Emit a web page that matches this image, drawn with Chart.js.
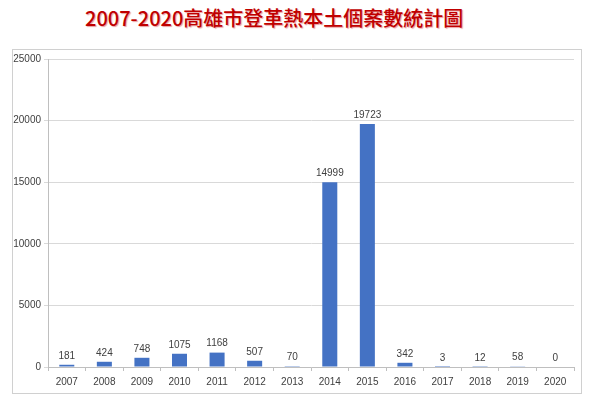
<!DOCTYPE html>
<html>
<head>
<meta charset="utf-8">
<script src="https://cdn.jsdelivr.net/npm/chart.js@4"></script>
<style>
    body { margin: 0; background: #fff; width: 600px; height: 405px; position: relative; overflow: hidden; }
    #title {
        position: absolute; left: 85px; top: 3px; width: 380px;
        font-family: "Noto Sans CJK TC", serif; font-weight: 500; font-size: 20px;
        color: #c00000; text-shadow: 1px 1px 1px #e8a0a0; white-space: nowrap;
    }
    #box { position: absolute; left: 12px; top: 49px; width: 568px; height: 343px; border: 1px solid #d0d0d0; }
</style>
</head>
<body>
<div id="title">2007-2020高雄市登革熱本土個案數統計圖</div>
<div id="box"><canvas id="barChart" width="568" height="343"></canvas></div>
<script>
var years = ["2007", "2008", "2009", "2010", "2011", "2012", "2013", "2014", "2015", "2016", "2017", "2018", "2019", "2020"];
var cases = [181, 424, 748, 1075, 1168, 507, 70, 14999, 19723, 342, 3, 12, 58, 0];
var yTicks = [0, 5000, 10000, 15000, 20000, 25000];

// value labels over the bars
var valueLabels = {
    id: 'valueLabels',
    afterDatasetsDraw: function (chart) {
        var ctx = chart.ctx;
        var meta = chart.getDatasetMeta(0);
        ctx.save();
        ctx.font = '10px "Liberation Sans"';
        ctx.fillStyle = '#404040';
        ctx.textAlign = 'center';
        ctx.textBaseline = 'bottom';
        meta.data.forEach(function (bar, i) {
            ctx.fillText(cases[i], bar.x, bar.y - 4);
        });
        ctx.restore();
    }
};

var ctx = document.getElementById('barChart');
var mainChart = new Chart(ctx, {
    type: 'bar',
    data: {
        labels: years,
        datasets: [{
            label: "Cases",
            backgroundColor: "#4472c4",
            data: cases,
            categoryPercentage: 1,
            barPercentage: 0.4
        }]
    },
    options: {
        responsive: false,
        animation: false,
        layout: { padding: { top: 6, right: 7, left: 0, bottom: 0 } },
        plugins: { legend: { display: false }, tooltip: { enabled: false } },
        scales: {
            x: {
                grid: { display: true, drawOnChartArea: false, offset: true, tickLength: 4, color: '#bfbfbf' },
                border: { color: '#bfbfbf' },
                ticks: { color: '#404040', font: { family: 'Liberation Sans', size: 10 }, padding: 5, maxRotation: 0 }
            },
            y: {
                min: 0, max: 25000,
                afterBuildTicks: function (s) { s.ticks = yTicks.map(function (v) { return { value: v }; }); },
                afterFit: function (s) { s.width = 35; },
                grid: { color: '#d9d9d9', tickLength: 4 },
                border: { color: '#bfbfbf' },
                ticks: {
                    color: '#404040', font: { family: 'Liberation Sans', size: 10 }, padding: 3,
                    callback: function (v) { return String(v); }
                }
            }
        }
    },
    plugins: [valueLabels]
});
</script>
</body>
</html>
